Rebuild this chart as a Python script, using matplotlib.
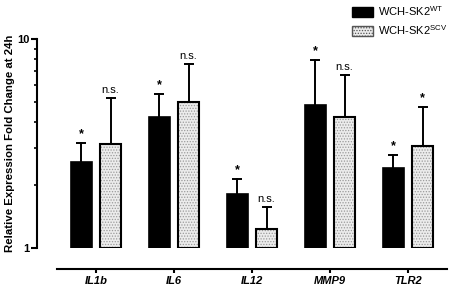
import matplotlib
matplotlib.use("Agg")
import matplotlib.pyplot as plt
import matplotlib.patches as mpatches
import numpy as np
from matplotlib.ticker import FixedLocator, NullFormatter, FixedFormatter

plt.rcParams["font.family"] = ["Liberation Sans", "DejaVu Sans"]
plt.rcParams["mathtext.fontset"] = "custom"
plt.rcParams["mathtext.rm"] = "Liberation Sans"
plt.rcParams["hatch.linewidth"] = 0.6

genes = ["IL1b", "IL6", "IL12", "MMP9", "TLR2"]
wt_mean = [2.57, 4.22, 1.81, 4.83, 2.42]
wt_err_top = [3.17, 5.47, 2.14, 7.94, 2.78]
scv_mean = [3.14, 4.98, 1.23, 4.25, 3.07]
scv_err_top = [5.2, 7.57, 1.57, 6.75, 4.71]
wt_sig = ["*", "*", "*", "*", "*"]
scv_sig = ["n.s.", "n.s.", "n.s.", "n.s.", "*"]

W, H = 454, 289
PT = 0.72  # points per pixel at dpi 100
fig = plt.figure(figsize=(W / 100, H / 100), dpi=100)
ax = fig.add_axes([57 / W, (H - 248) / H, 390 / W, 209 / H])

x = np.arange(len(genes))
off, bw = 0.187, 0.27

wt_x = x - off
scv_x = x + off
ax.bar(wt_x, np.array(wt_mean) - 1, bottom=1, width=bw, color="black",
       edgecolor="black", linewidth=1.2, zorder=2)
ax.bar(scv_x, np.array(scv_mean) - 1, bottom=1, width=bw, color="#ececec",
       edgecolor="#9a9a9a", hatch="......", linewidth=0, zorder=2)
ax.bar(scv_x, np.array(scv_mean) - 1, bottom=1, width=bw, fill=False,
       edgecolor="black", linewidth=1.5, zorder=3)

for xs, m, e in [(wt_x, wt_mean, wt_err_top), (scv_x, scv_mean, scv_err_top)]:
    for xi, mi, ei in zip(xs, m, e):
        ax.plot([xi, xi], [mi, ei], color="black", lw=1.4, zorder=1)
        ax.plot([xi - 0.065, xi + 0.065], [ei, ei], color="black", lw=1.4,
                zorder=1, solid_capstyle="butt")

for xs, e, s in [(wt_x, wt_err_top, wt_sig), (scv_x, scv_err_top, scv_sig)]:
    for xi, ei, si in zip(xs, e, s):
        if si == "*":
            ax.text(xi, ei * 1.03, si, ha="center", va="bottom", fontsize=9,
                    fontweight="bold")
        else:
            ax.text(xi, ei * 1.035, si, ha="center", va="bottom", fontsize=8)

ax.set_yscale("log")
ax.set_ylim(1, 10)
ax.set_xlim(-0.5, 4.5)
ax.yaxis.set_major_locator(FixedLocator([1, 10]))
ax.yaxis.set_major_formatter(FixedFormatter(["1", "10"]))
ax.yaxis.set_minor_locator(FixedLocator(range(2, 10)))
ax.yaxis.set_minor_formatter(NullFormatter())
ax.tick_params(axis="y", which="major", length=6 * PT, width=1.5, pad=1,
               labelsize=8)
ax.tick_params(axis="y", which="minor", length=3.5 * PT, width=1.2)
ax.xaxis.set_major_locator(FixedLocator(x))
ax.xaxis.set_major_formatter(FixedFormatter(genes))
ax.tick_params(axis="x", length=4 * PT, width=1.5, pad=2, labelsize=8)

for side in ["top", "right"]:
    ax.spines[side].set_visible(False)
ax.spines["left"].set_position(("outward", 20 * PT))
ax.spines["bottom"].set_position(("outward", 21 * PT))
ax.spines["left"].set_linewidth(1.5)
ax.spines["bottom"].set_linewidth(1.5)

fig.text(10 / W, (H - 143) / H, "Relative Expression Fold Change at 24h",
         rotation=90, ha="center", va="center", fontweight="bold", fontsize=8.2)

handles = [
    mpatches.Patch(facecolor="black", edgecolor="black",
                   label="WCH-SK2$^{\\mathrm{WT}}$"),
    mpatches.Patch(facecolor="#ececec", edgecolor="#555555", hatch="......",
                   label="WCH-SK2$^{\\mathrm{SCV}}$"),
]
fig.legend(handles=handles, loc="upper left", bbox_to_anchor=(344 / W, 1.012),
           frameon=False, fontsize=8, handlelength=1.9, handleheight=1.0,
           handletextpad=0.5, labelspacing=0.45, borderaxespad=0.3)

fig.canvas.draw()
for t in ax.get_xticklabels():
    t.set_fontweight("bold")
    t.set_fontstyle("italic")
for t in ax.get_yticklabels():
    t.set_fontweight("bold")

fig.savefig("out.png", dpi=100, facecolor="white")
